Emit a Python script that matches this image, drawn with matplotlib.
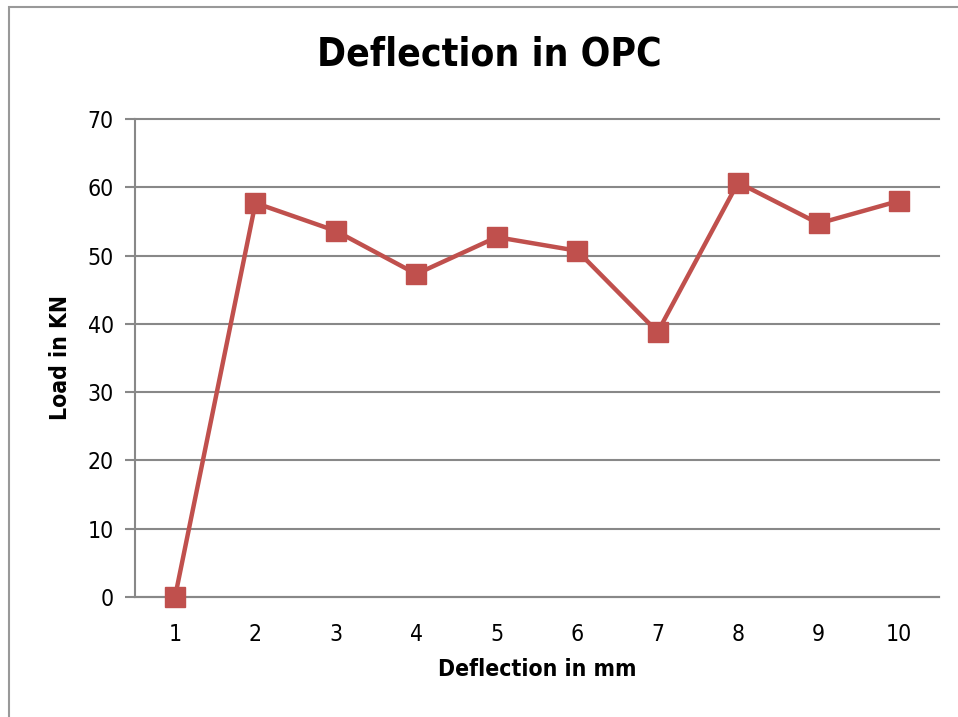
import matplotlib
matplotlib.use("Agg")
import matplotlib.pyplot as plt
from matplotlib.patches import Rectangle

deflection = [1, 2, 3, 4, 5, 6, 7, 8, 9, 10]
load = [0, 57.7, 53.6, 47.3, 52.7, 50.7, 38.8, 60.7, 54.7, 58.0]
y_ticks = [0, 10, 20, 30, 40, 50, 60, 70]

plt.rcParams['font.family'] = ['DejaVu Sans']
plt.rcParams['font.stretch'] = 'condensed'

W, H = 958, 717
fig = plt.figure(figsize=(W / 100, H / 100), dpi=100)
ax = fig.add_axes([134.8 / W, 1 - 597 / H, 804.4 / W, 478 / H])

grey = '#888888'
red = '#C0504D'

fig.patches.append(Rectangle((9 / W, -0.05), 1.1, 1 - 7 / H + 0.05, transform=fig.transFigure,
                             fill=False, edgecolor='#999999', linewidth=1.5))

ax.plot(deflection, load, color=red, linewidth=3.2, marker='s', markersize=14,
        markerfacecolor=red, markeredgecolor=red, clip_on=False, zorder=3)

ax.set_xlim(0.5, 10.5)
ax.set_ylim(0, 70)
ax.set_xticks(deflection)
ax.set_yticks(y_ticks)
ax.yaxis.grid(True, color=grey, linewidth=1.5)
for gl in ax.get_ygridlines():
    gl.set_clip_on(False)
ax.set_axisbelow(True)
for s in ['top', 'right']:
    ax.spines[s].set_visible(False)
ax.spines['left'].set_color(grey)
ax.spines['left'].set_linewidth(1.5)
ax.spines['bottom'].set_color(grey)
ax.spines['bottom'].set_linewidth(1.5)
ax.tick_params(axis='y', length=7, width=1.5, color=grey, labelsize=16.5, pad=8)
ax.tick_params(axis='x', length=0, labelsize=16.5, pad=19)

ax.set_xlabel('Deflection in mm', fontsize=16.5, fontweight='bold', labelpad=8)
ax.set_ylabel('Load in KN', fontsize=16.5, fontweight='bold', labelpad=11)
fig.text(489 / W, 1 - 55 / H, 'Deflection in OPC', fontsize=28, fontweight='bold',
         ha='center', va='center')

fig.savefig('out.png', dpi=100)
